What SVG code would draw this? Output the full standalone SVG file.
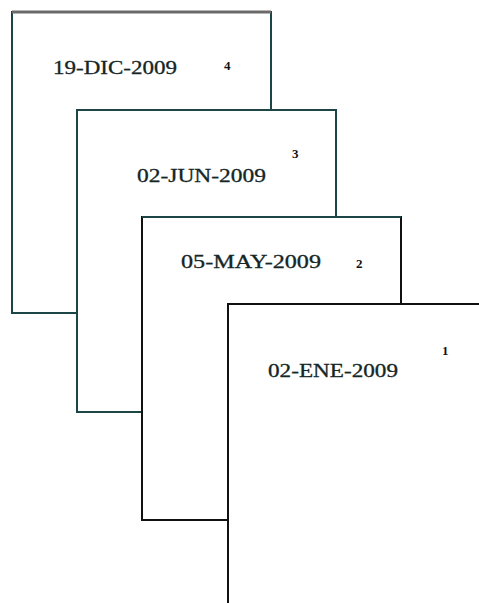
<svg xmlns="http://www.w3.org/2000/svg" width="479" height="603" viewBox="0 0 479 603">
<style>
.page{fill:#ffffff;stroke-width:2}
.teal{stroke:#1c4646}
.blk{stroke:#111111}
.date{font-family:"Liberation Serif","Times New Roman",serif;font-size:19px;fill:#142626;stroke:#142626;stroke-width:0.3}
.num{font-family:"Liberation Serif","Times New Roman",serif;font-size:13px;font-weight:bold;fill:#111111}
</style>
<rect width="479" height="603" fill="#ffffff"/>
<g id="page4">
<rect class="page teal" x="12" y="12" width="259" height="301"/>
<line x1="12" y1="12" x2="271" y2="12" stroke="#6a6a6a" stroke-width="3"/>
<text class="date" x="53" y="74" textLength="124" lengthAdjust="spacingAndGlyphs">19-DIC-2009</text>
<text class="num" x="224" y="70">4</text>
</g>
<g id="page3">
<rect class="page teal" x="77" y="110" width="259" height="302"/>
<text class="date" x="137" y="182" textLength="129" lengthAdjust="spacingAndGlyphs">02-JUN-2009</text>
<text class="num" x="292" y="158">3</text>
</g>
<g id="page2">
<rect class="page blk" x="142" y="217" width="259" height="303"/>
<line x1="142" y1="217" x2="401" y2="217" stroke="#1c4646" stroke-width="2"/>
<text class="date" x="181" y="268" textLength="140" lengthAdjust="spacingAndGlyphs">05-MAY-2009</text>
<text class="num" x="356" y="268">2</text>
</g>
<g id="page1">
<rect class="page blk" x="228" y="304" width="260" height="320"/>
<text class="date" x="268" y="377" textLength="130" lengthAdjust="spacingAndGlyphs">02-ENE-2009</text>
<text class="num" x="442" y="355">1</text>
</g>
<g id="connectors"></g>
</svg>
